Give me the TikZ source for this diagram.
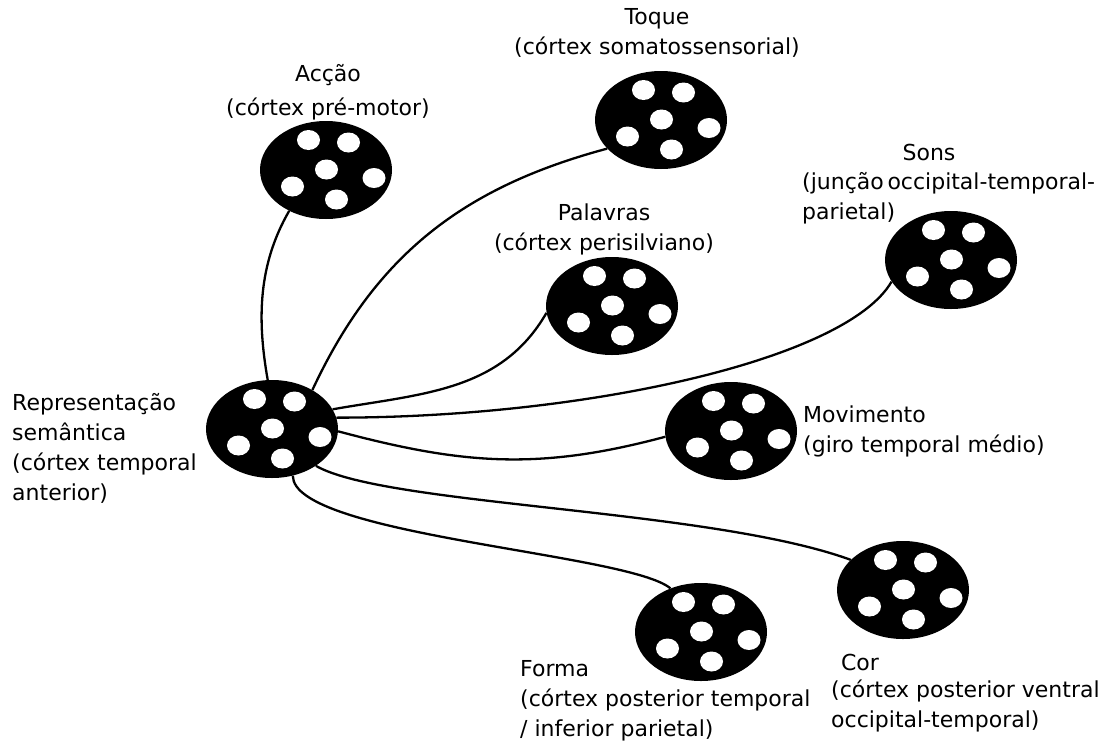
\documentclass[tikz,border=0pt]{standalone}
\usepackage{fontspec}
\setmainfont{DejaVu Sans}
\usetikzlibrary{shapes.geometric}

\begin{document}
\begin{tikzpicture}[x=1pt, y=1pt,
    area/.style={ellipse, fill=black, minimum width=132pt, minimum height=98pt, inner sep=0pt},
    etiqueta/.style={font=\fontsize{22}{30}\selectfont, inner sep=0pt, align=center},
    ligacao/.style={line width=2.3pt, black}]
    \useasboundingbox (0,0) rectangle (1107,-744);

    % Nodos
    \node[area] (RS) at (272,-429) {};
    \node[area] (AC) at (326,-170) {};
    \node[area] (TQ) at (661,-120) {};
    \node[area] (PL) at (612,-306) {};
    \node[area] (SN) at (951,-260) {};
    \node[area] (MV) at (731,-431) {};
    \node[area] (CR) at (903,-590) {};
    \node[area] (FM) at (701,-632) {};

    % Puntos blancos
    \foreach \n in {RS,AC,TQ,PL,SN,MV,CR,FM}
        \foreach \dx/\dy in {-17.5/30, 22.5/27.5, 0.5/0.5, -33.5/-16.5, 48/-8, 10.5/-29.5}
            \fill[white] (\n) ++(\dx,\dy) ellipse [x radius=11.5pt, y radius=10pt];

    % Conexiones
    \draw[ligacao] (RS.95) .. controls +(100:62) and +(240:62) .. (AC.228);
    \draw[ligacao] (RS.44) .. controls +(65:149) and +(195:149) .. (TQ.208);
    \draw[ligacao] (RS.18) .. controls +(10:91) and +(240:91) .. (PL.186);
    \draw[ligacao] (RS.10) .. controls +(0:250) and +(240:90) .. (SN.200);
    \draw[ligacao] (RS.358) .. controls +(-15:130) and +(195:130) .. (MV.185);
    \draw[ligacao] (RS.320) .. controls +(-30:80) and +(160:150) .. (CR.150);
    \draw[ligacao] (RS.294) .. controls +(-90:60) and +(140:55) .. (FM.125);

    % Etiquetas
    \node[etiqueta, align=left, anchor=west] (lRS) at (12,-448) {Representação\\semântica\\(córtex temporal\\anterior)};
    \node[etiqueta] (lAC) at (328,-92) {Acção\\[4pt](córtex pré-motor)};
    \node[etiqueta] (lTQ) at (657,-33) {Toque\\(córtex somatossensorial)};
    \node[etiqueta] (lPL) at (604,-229) {Palavras\\(córtex perisilviano)};
    \node[etiqueta] (lSN) at (929,-152) {Sons};
    \node[etiqueta, align=left, anchor=west] (lSNb) at (802,-198) {(junção\,occipital-temporal-\\parietal)};
    \node[etiqueta, align=left, anchor=west] (lMV) at (803,-431) {Movimento\\(giro temporal médio)};
    \node[etiqueta, align=left, anchor=west] (lFM) at (520,-701) {Forma\\(córtex posterior temporal\\/ inferior parietal)};
    \node[etiqueta] (lCR) at (860,-662) {Cor};
    \node[etiqueta, align=left, anchor=west] (lCRb) at (831,-706) {(córtex posterior ventral\\occipital-temporal)};
\end{tikzpicture}
\end{document}
